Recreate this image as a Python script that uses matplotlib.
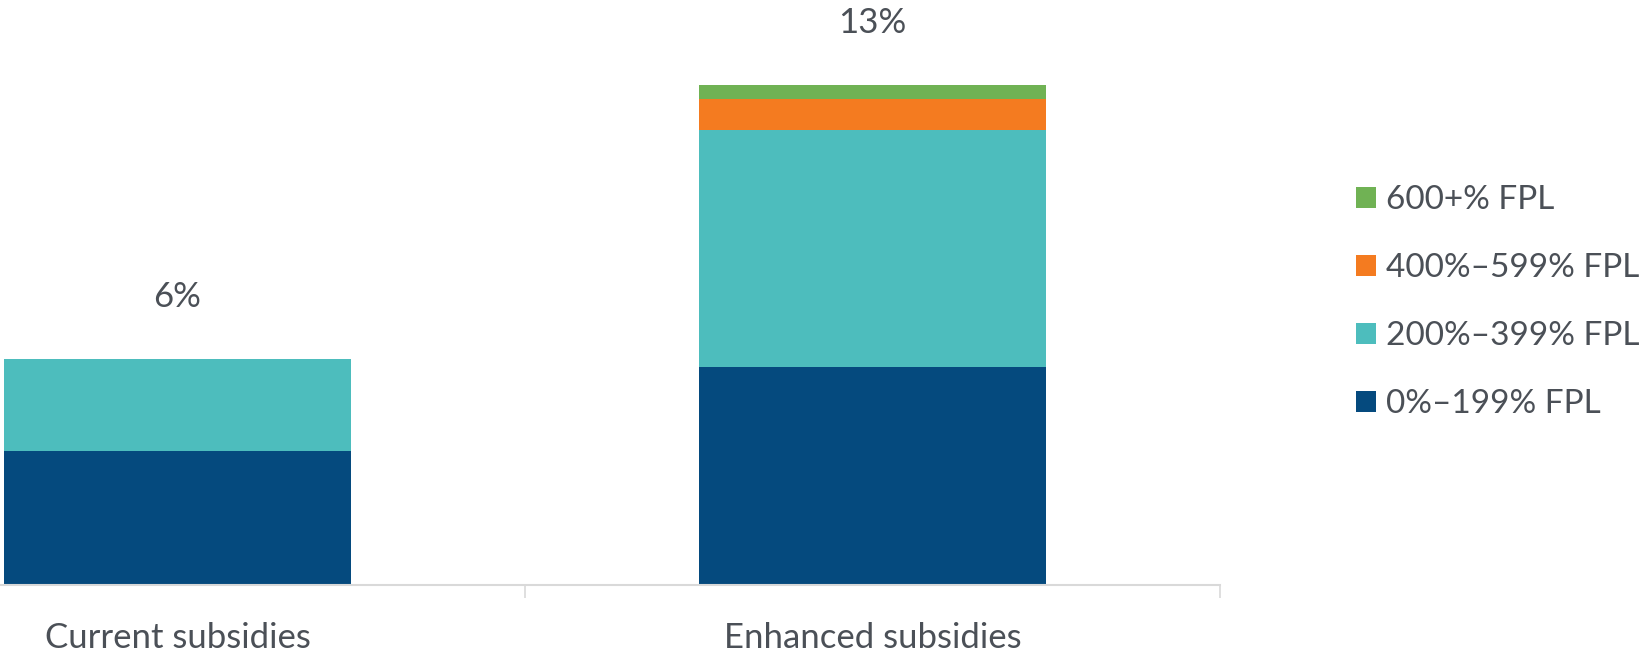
import matplotlib
matplotlib.use("Agg")
from matplotlib import pyplot as plt
import numpy as np

# Share of people (%) by income group, stacked per scenario
categories = ["Current subsidies", "Enhanced subsidies"]
series = ["0%\u2013199% FPL", "200%\u2013399% FPL", "400%\u2013599% FPL", "600+% FPL"]
values = {
    "0%\u2013199% FPL": [3.5, 5.7],
    "200%\u2013399% FPL": [2.4, 6.2],
    "400%\u2013599% FPL": [0.0, 0.8],
    "600+% FPL": [0.0, 0.37],
}
total_labels = ["6%", "13%"]
colors = ["#054A7E", "#4DBDBD", "#F47B20", "#70B254"]

TEXT = "#4b5057"
plt.rcParams["font.family"] = ["Lato", "DejaVu Sans"]

fig = plt.figure(figsize=(16.45, 6.54), dpi=100)
# axes left edge sits off-canvas like the cropped original
ax = fig.add_axes([0, 69.5 / 654, 1220 / 1645, 584.5 / 654])

x = np.arange(len(categories))
bottom = np.zeros(len(categories))
for name, col in zip(series, colors):
    v = np.array(values[name])
    ax.bar(x, v, width=0.5, bottom=bottom, color=col, label=name, linewidth=0)
    bottom += v

for xi, tot, lab in zip(x, bottom, total_labels):
    ax.annotate(lab, (xi, tot), xytext=(0, 33), textcoords="offset points",
                ha="center", va="bottom", fontsize=25, color=TEXT)

ax.set_xlim(-0.5 + 170 / 695, 1.5)
ax.set_ylim(0, 15.3)
ax.set_yticks([])
for s in ["top", "right", "left"]:
    ax.spines[s].set_visible(False)
ax.spines["bottom"].set_color("#d9d9d9")
ax.spines["bottom"].set_linewidth(1.5)

ax.set_xticks(x)
ax.set_xticklabels(categories, fontsize=25, color=TEXT)
ax.tick_params(axis="x", which="major", length=0, pad=27)
ax.set_xticks([0.5, 1.5], minor=True)
ax.tick_params(axis="x", which="minor", length=9, width=1.2, color="#d9d9d9")

handles, labels = ax.get_legend_handles_labels()
leg = fig.legend(handles[::-1], labels[::-1], loc="center left",
                 bbox_to_anchor=(1356 / 1645, 1 - 302 / 654),
                 frameon=False, fontsize=24, handlelength=0.6, handleheight=0.6,
                 handletextpad=0.3, labelspacing=1.14, borderpad=0, borderaxespad=0)
for t in leg.get_texts():
    t.set_color(TEXT)

plt.savefig("out.png", dpi=100)
